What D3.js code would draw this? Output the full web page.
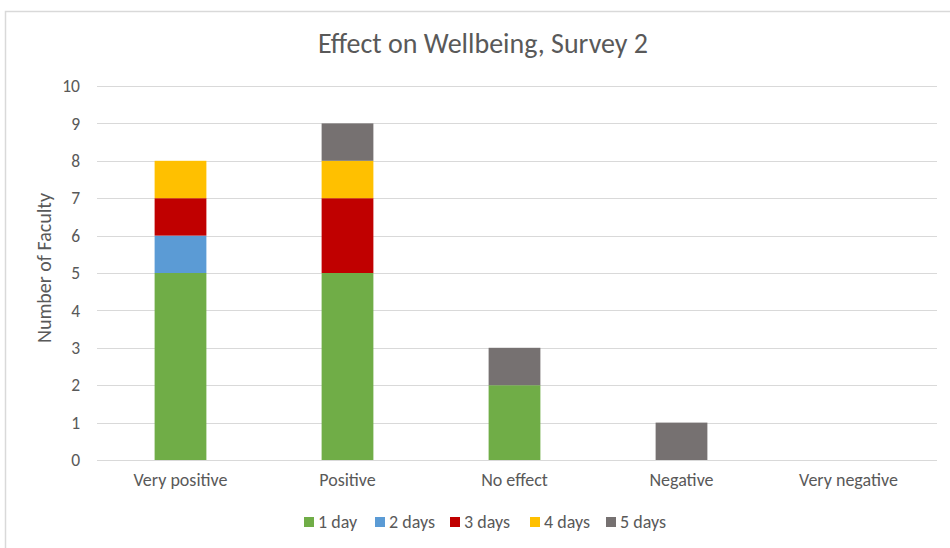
<!DOCTYPE html>
<html>
<head>
<meta charset="utf-8">
<script src="https://cdn.jsdelivr.net/npm/d3@7"></script>
<style>
  html, body { margin: 0; padding: 0; background: #fff; }
  svg { display: block; }
  text { font-family: Carlito, "Open Sans", "Noto Sans", sans-serif; fill: #595959; }
</style>
</head>
<body>
<script>
// Survey responses: number of faculty per effect rating, split by days per week
const categories = ["Very positive", "Positive", "No effect", "Negative", "Very negative"];
const seriesNames = ["1 day", "2 days", "3 days", "4 days", "5 days"];
const oneDay   = [5, 5, 2, 0, 0];
const twoDays  = [1, 0, 0, 0, 0];
const threeDays = [1, 2, 0, 0, 0];
const fourDays = [1, 1, 0, 0, 0];
const fiveDays = [0, 1, 1, 1, 0];
const yTicks = [0, 1, 2, 3, 4, 5, 6, 7, 8, 9, 10];
const colors = ["#70AD47", "#5B9BD5", "#C00000", "#FFC000", "#767171"];

const W = 950, H = 548;
const margin = { left: 97, right: 15, top: 86, bottom: 88 };
const FONT = 'Carlito, "Open Sans", "Noto Sans", sans-serif';

const rows = categories.map((c, i) => ({
  category: c,
  "1 day": oneDay[i], "2 days": twoDays[i], "3 days": threeDays[i],
  "4 days": fourDays[i], "5 days": fiveDays[i]
}));

const svg = d3.select("body").append("svg").attr("width", W).attr("height", H);

// chart frame
svg.append("rect")
  .attr("x", 5.5).attr("y", 11.5)
  .attr("width", W + 10).attr("height", H + 10)
  .attr("fill", "#fff").attr("stroke", "#d9d9d9").attr("stroke-width", 1.5);

const x = d3.scaleBand()
  .domain(categories)
  .range([margin.left, W - margin.right - 3])
  .paddingInner(0.69).paddingOuter(0.345);

const y = d3.scaleLinear().domain([0, 10]).range([460, 86]);

// horizontal gridlines
svg.append("g")
  .selectAll("line")
  .data(yTicks)
  .join("line")
  .attr("x1", margin.left).attr("x2", W - margin.right + 2)
  .attr("y1", d => Math.round(y(d)) + 0.5).attr("y2", d => Math.round(y(d)) + 0.5)
  .attr("stroke", "#d9d9d9").attr("stroke-width", 1);

// y axis labels
const yAxis = d3.axisLeft(y).tickValues(yTicks).tickSize(0).tickPadding(0);
const gy = svg.append("g").attr("transform", `translate(${margin.left - 17},0)`).call(yAxis);
gy.select(".domain").remove();
gy.selectAll("text")
  .attr("font-size", 17.5).attr("fill", "#595959")
  .style("font-family", FONT);

// stacked bars
const stack = d3.stack().keys(seriesNames);
const layers = stack(rows);
svg.append("g")
  .selectAll("g")
  .data(layers)
  .join("g")
  .attr("fill", (d, i) => colors[i])
  .selectAll("rect")
  .data(d => d.filter(s => s[1] - s[0] > 0))
  .join("rect")
  .attr("x", d => x(d.data.category))
  .attr("width", x.bandwidth())
  .attr("y", d => y(d[1]))
  .attr("height", d => y(d[0]) - y(d[1]));

// x axis labels
const xAxis = d3.axisBottom(x).tickSize(0).tickPadding(0);
const gx = svg.append("g").attr("transform", `translate(0,${y(0) + 13})`).call(xAxis);
gx.select(".domain").remove();
gx.selectAll("text")
  .attr("font-size", 18).attr("fill", "#595959").attr("dy", "0.71em")
  .style("font-family", FONT);

// title
svg.append("text")
  .attr("x", 483).attr("y", 53)
  .attr("text-anchor", "middle")
  .attr("font-size", 28)
  .text("Effect on Wellbeing, Survey 2");

// y axis title
svg.append("text")
  .attr("transform", "translate(51,268) rotate(-90)")
  .attr("text-anchor", "middle")
  .attr("font-size", 20)
  .text("Number of Faculty");

// legend
const legendX = [304, 375, 450, 530, 606];
const legend = svg.append("g")
  .selectAll("g")
  .data(seriesNames)
  .join("g")
  .attr("transform", (d, i) => `translate(${legendX[i]},522)`);
legend.append("rect")
  .attr("x", 0).attr("y", -5).attr("width", 10).attr("height", 10)
  .attr("fill", (d, i) => colors[i]);
legend.append("text")
  .attr("x", 14).attr("y", 0).attr("dy", "0.35em")
  .attr("font-size", 18)
  .text(d => d);
</script>
</body>
</html>
